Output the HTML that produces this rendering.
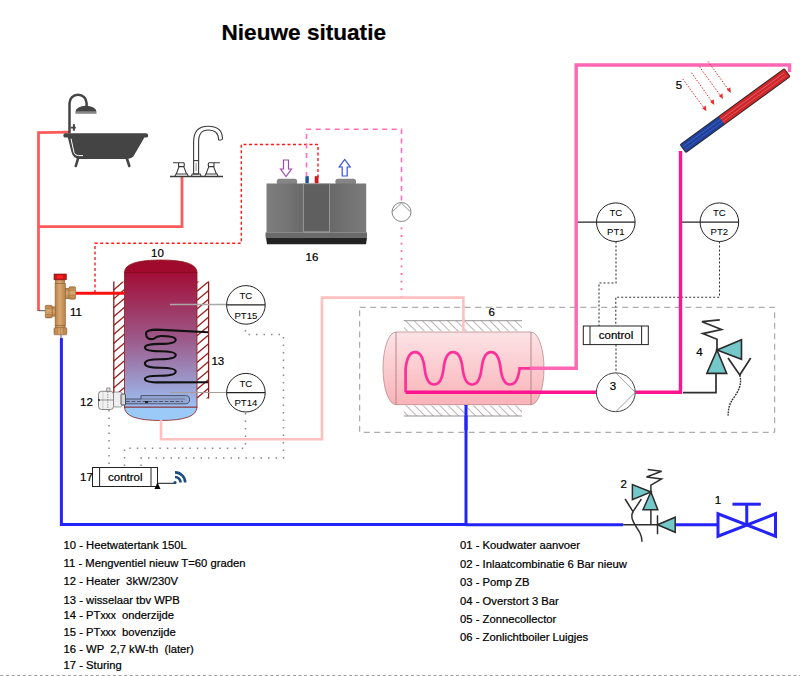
<!DOCTYPE html>
<html><head><meta charset="utf-8">
<style>
html,body{margin:0;padding:0;background:#fff;width:800px;height:676px;overflow:hidden}
svg{position:absolute;left:0;top:0}
text{font-family:"Liberation Sans",sans-serif;white-space:pre;stroke:#000;stroke-width:0.22px}
.s text{stroke-width:0.05px}
</style></head>
<body>
<svg width="800" height="676" viewBox="0 0 800 676">
<defs>
  <pattern id="hatch" patternUnits="userSpaceOnUse" width="6.4" height="6.4" patternTransform="rotate(45)">
    <rect width="6.4" height="6.4" fill="#fff"/>
    <line x1="0" y1="0" x2="0" y2="6.4" stroke="#a52a2a" stroke-width="1.6"/>
  </pattern>
  <pattern id="hatch2" patternUnits="userSpaceOnUse" width="5.95" height="5.95" patternTransform="rotate(-45)">
    <rect width="5.95" height="5.95" fill="#fff"/>
    <line x1="0" y1="0" x2="0" y2="5.95" stroke="#7a6a6a" stroke-width="1"/>
  </pattern>
  <linearGradient id="tankg" x1="0" y1="0" x2="0" y2="1">
    <stop offset="0" stop-color="#a20d36"/>
    <stop offset="0.5" stop-color="#9c5a8a"/>
    <stop offset="1" stop-color="#9cc0f4"/>
  </linearGradient>
  <linearGradient id="vesg" x1="0" y1="0" x2="0" y2="1">
    <stop offset="0" stop-color="#fde3e6"/>
    <stop offset="1" stop-color="#f9b3b8"/>
  </linearGradient>
  <linearGradient id="hpl" x1="0" y1="0" x2="1" y2="0">
    <stop offset="0" stop-color="#7d7d7d"/>
    <stop offset="0.5" stop-color="#767676"/>
    <stop offset="1" stop-color="#686868"/>
  </linearGradient>
  <linearGradient id="hpr" x1="0" y1="0" x2="1" y2="0">
    <stop offset="0" stop-color="#686868"/>
    <stop offset="0.6" stop-color="#747474"/>
    <stop offset="1" stop-color="#7a7a7a"/>
  </linearGradient>
  <linearGradient id="hpg" x1="0" y1="0" x2="1" y2="0">
    <stop offset="0" stop-color="#5a5a5a"/>
    <stop offset="0.5" stop-color="#8a8a8a"/>
    <stop offset="1" stop-color="#6a6a6a"/>
  </linearGradient>
  <linearGradient id="brassH" x1="0" y1="0" x2="1" y2="0">
    <stop offset="0" stop-color="#b98048"/>
    <stop offset="0.45" stop-color="#d8a870"/>
    <stop offset="1" stop-color="#b8804a"/>
  </linearGradient>
  <linearGradient id="brassV" x1="0" y1="0" x2="0" y2="1">
    <stop offset="0" stop-color="#b98048"/>
    <stop offset="0.45" stop-color="#d8a870"/>
    <stop offset="1" stop-color="#b8804a"/>
  </linearGradient>
</defs>

<!-- Title -->
<text x="221.5" y="39.8" font-size="22.6" font-weight="bold" fill="#000">Nieuwe situatie</text>

<!-- salmon pipes -->
<g stroke="#ff5a5a" stroke-width="2.8" fill="none">
  <polyline points="70,132.2 38.5,132.6 38.5,311"/>
  <polyline points="38.5,226.7 182,226.7 182,177"/>
</g>

<!-- Bath -->
<g fill="#444">
  <path d="M69.5 133 V103.2 A8.55 8.55 0 0 1 86.6 103.2 V106.5" stroke="#444" stroke-width="2.5" fill="none"/>
  <path d="M75.4 111.8 A10.55 6 0 0 1 96.5 111.8z"/>
  <rect x="75.4" y="111.8" width="21.1" height="2" fill="#888"/>
  <rect x="72.9" y="124.2" width="2" height="6.5"/>
  <rect x="70.8" y="126.8" width="5" height="1.7"/>
  <path d="M65.5 133.2 H146 a2.2 2.2 0 0 1 0 4.4 H144.4 L134.5 154.5 Q132.5 158.9 127 158.9 H80 Q73 158.9 71.5 152 L67.8 137.6 H65.5 a2.2 2.2 0 0 1 0 -4.4z"/>
  <path d="M71 138.7 L74 152.5 Q75 155.6 78.5 155.6 H83" stroke="#fff" stroke-width="1" fill="none"/>
  <path d="M78.2 158 L75.8 166" stroke="#444" stroke-width="2.6" stroke-linecap="round"/>
  <path d="M126.7 158 L129.3 166" stroke="#444" stroke-width="2.6" stroke-linecap="round"/>
</g>

<!-- Faucet -->
<g stroke="#3a3a3a" fill="none" stroke-width="1.1">
  <line x1="170" y1="176.5" x2="223" y2="176.5" stroke-width="1.3"/>
  <path d="M193.6 160.6 V142 Q193.6 126.2 208 126.2 Q221.8 126.2 222.4 137.5 L222.4 139.2 Q220.5 140.8 218.6 139.8 Q218.6 130 208 130 Q198.6 130 198.6 142 V160.6"/>
  <rect x="193.6" y="160.6" width="5" height="13.4"/>
  <line x1="196.1" y1="163.5" x2="196.1" y2="170.5" stroke-dasharray="1 1"/>
  <path d="M191.5 176 L192.2 174 H200.2 L201 176"/>
  <path d="M173 162.7 H184 M178.6 162.7 V166.6 H184 Q184.6 164.5 184 162.7 M179 166.6 L176.3 174 M183.8 166.6 L186.6 174"/>
  <path d="M175 176 L176 174 H187.3 L188.2 176"/>
  <path d="M209 162.7 H219.8 M214 162.7 V166.6 H208.6 Q208 164.5 208.6 162.7 M208.8 166.6 L206 174 M213.6 166.6 L216.4 174"/>
  <path d="M204.9 176 L205.8 174 H217 L218 176"/>
</g>
<!-- red dotted from tank to HP -->
<polyline points="95,293 95,243.2 241.3,243.2 241.3,144.5 318,144.5 318,180" stroke="#ff1a1a" stroke-width="1.4" fill="none" stroke-dasharray="3 2.5"/>
<!-- pink dashed from HP -->
<polyline points="306.5,176 306.5,129.2 401.5,129.2 401.5,202.5" stroke="#ff70b8" stroke-width="1.6" fill="none" stroke-dasharray="5 4.5" stroke-dashoffset="1"/>
<circle cx="401.5" cy="212" r="9.5" fill="#fff" stroke="#666" stroke-width="0.8"/>
<path d="M392.6 211.5 L401.4 203.2 L410.2 211.5" stroke="#777" stroke-width="0.8" fill="none"/>
<polyline points="401.5,227.5 401.5,297" stroke="#ff66aa" stroke-width="1.8" fill="none" stroke-dasharray="1.8 5.8"/>

<!-- Heat pump 16 -->
<g>
  <rect x="276.8" y="178.8" width="20.3" height="6" rx="2.5" fill="#858585"/>
  <rect x="335.4" y="178.8" width="20.6" height="6" rx="2.5" fill="#858585"/>
  <rect x="266.5" y="183.5" width="37" height="49" fill="url(#hpl)"/>
  <rect x="329.5" y="183.5" width="36.7" height="49" fill="url(#hpr)"/>
  <rect x="303.3" y="183.7" width="26.2" height="48.2" fill="#5f5f5f" stroke="#9a9a9a" stroke-width="0.9"/>
  <rect x="265.5" y="232.4" width="101.5" height="5.4" fill="#6a6a6a"/>
  <path d="M266 237.7 H367 L366 244.3 H267z" fill="#232323"/>
  <rect x="305.4" y="176.2" width="3.4" height="7" fill="#1d4f9a"/>
  <rect x="314.7" y="176.2" width="3.8" height="7" fill="#d01a1a"/>
  <path d="M283.5 160 H288.5 V169 H291.5 L286 176.5 L280.5 169 H283.5z" fill="#fff" stroke="#a04aa8" stroke-width="1.2"/>
  <path d="M342.2 176 H347.2 V167 H350.2 L344.7 159.5 L339.2 167 H342.2z" fill="#fff" stroke="#3050e0" stroke-width="1.2"/>
</g>
<text x="312" y="261" font-size="11.5" text-anchor="middle" fill="#000">16</text>
<!-- Tank 10 -->
<g>
  <clipPath id="clL"><rect x="112" y="281.5" width="13" height="116.5"/></clipPath>
  <clipPath id="clR"><rect x="196.5" y="281.5" width="13" height="117"/></clipPath>
  <g clip-path="url(#clL)" stroke="#9a2020" stroke-width="1.3"><line x1="113.6" y1="281.10" x2="124.5" y2="271.70"/><line x1="113.6" y1="290.00" x2="124.5" y2="280.60"/><line x1="113.6" y1="298.90" x2="124.5" y2="289.50"/><line x1="113.6" y1="307.80" x2="124.5" y2="298.40"/><line x1="113.6" y1="316.70" x2="124.5" y2="307.30"/><line x1="113.6" y1="325.60" x2="124.5" y2="316.20"/><line x1="113.6" y1="334.50" x2="124.5" y2="325.10"/><line x1="113.6" y1="343.40" x2="124.5" y2="334.00"/><line x1="113.6" y1="352.30" x2="124.5" y2="342.90"/><line x1="113.6" y1="361.20" x2="124.5" y2="351.80"/><line x1="113.6" y1="370.10" x2="124.5" y2="360.70"/><line x1="113.6" y1="379.00" x2="124.5" y2="369.60"/><line x1="113.6" y1="387.90" x2="124.5" y2="378.50"/><line x1="113.6" y1="396.80" x2="124.5" y2="387.40"/><line x1="113.6" y1="405.70" x2="124.5" y2="396.30"/></g>
  <g clip-path="url(#clR)" stroke="#9a2020" stroke-width="1.3"><line x1="197" y1="282.40" x2="208.6" y2="272.60"/><line x1="197" y1="291.30" x2="208.6" y2="281.50"/><line x1="197" y1="300.20" x2="208.6" y2="290.40"/><line x1="197" y1="309.10" x2="208.6" y2="299.30"/><line x1="197" y1="318.00" x2="208.6" y2="308.20"/><line x1="197" y1="326.90" x2="208.6" y2="317.10"/><line x1="197" y1="335.80" x2="208.6" y2="326.00"/><line x1="197" y1="344.70" x2="208.6" y2="334.90"/><line x1="197" y1="353.60" x2="208.6" y2="343.80"/><line x1="197" y1="362.50" x2="208.6" y2="352.70"/><line x1="197" y1="371.40" x2="208.6" y2="361.60"/><line x1="197" y1="380.30" x2="208.6" y2="370.50"/><line x1="197" y1="389.20" x2="208.6" y2="379.40"/><line x1="197" y1="398.10" x2="208.6" y2="388.30"/><line x1="197" y1="407.00" x2="208.6" y2="397.20"/></g>
  <line x1="113.8" y1="281.5" x2="113.8" y2="397.5" stroke="#8b1a1a" stroke-width="1.3"/>
  <line x1="208.6" y1="281.5" x2="208.6" y2="398.5" stroke="#8b1a1a" stroke-width="1.3"/>
  <path d="M124.5 272.5 Q124.5 260 160.8 260 Q197 260 197 272.5z" fill="#a00a2c" stroke="#8b1a1a" stroke-width="0.8"/>
  <path d="M124.5 407 Q124.5 420.5 160.8 420.5 Q197 420.5 197 407z" fill="#9ccaf8" stroke="#8b1a1a" stroke-width="0.8"/>
  <rect x="124.5" y="272.5" width="72.5" height="134.5" fill="url(#tankg)" stroke="#8b1a1a" stroke-width="0.8"/>
  <line x1="124.5" y1="272.5" x2="197" y2="272.5" stroke="#8a0a22" stroke-width="1"/>
  <path d="M208 332.2 L157.6 329.6 Q146 329.6 146 333.5 Q146 340 153.4 339 Q157 336 160.8 336 Q175.7 336 175.7 339.7 Q175.7 343.9 159.8 343.9 Q144.9 343.9 144.9 347.6 Q144.9 351.3 159.8 351.3 Q175.7 351.3 175.7 355.1 Q175.7 359.3 159.8 359.3 Q144.9 359.3 144.9 363.6 Q144.9 367.8 159.8 367.8 Q175.7 367.8 175.7 371.6 Q175.7 375.8 159.8 375.8 Q144.9 375.8 144.9 379 Q144.9 382.4 160 382.4 L208 382.2" stroke="#111" stroke-width="2.1" fill="none"/>
</g>
<text x="157.5" y="257" font-size="11.5" text-anchor="middle" fill="#000">10</text>
<text x="217.8" y="365" font-size="11.5" text-anchor="middle" fill="#000">13</text>
<text x="86.5" y="406" font-size="11.5" text-anchor="middle" fill="#000">12</text>
<text x="76" y="315.5" font-size="11.5" text-anchor="middle" fill="#000">11</text>

<!-- sensor lines -->
<line x1="170" y1="304.5" x2="226.5" y2="304.5" stroke="#a8a8a8" stroke-width="1.6"/>
<line x1="170" y1="392.5" x2="226.5" y2="392.5" stroke="#a8a098" stroke-width="1.2"/>

<!-- red supply into tank -->
<line x1="75.5" y1="293.3" x2="124.5" y2="293.3" stroke="#ff1010" stroke-width="3"/>
<!-- blue cold -->
<polyline points="61.4,338 61.4,524.4 466,524.4" stroke="#2424f8" stroke-width="3" fill="none"/>
<line x1="466" y1="405" x2="466" y2="524.4" stroke="#2424f8" stroke-width="3"/>

<!-- Mixing valve 11 -->
<line x1="38.5" y1="310.7" x2="45.5" y2="310.7" stroke="#555" stroke-width="1"/>
<line x1="61" y1="334" x2="61" y2="338.5" stroke="#555" stroke-width="1"/>
<g stroke="#8a6234" stroke-width="0.6">
  <rect x="55.3" y="279.8" width="9.3" height="4" fill="url(#brassH)"/>
  <rect x="55.1" y="283.3" width="10.3" height="42.4" fill="url(#brassH)"/>
  <rect x="55.3" y="325.5" width="9.8" height="2.4" fill="url(#brassH)"/>
  <rect x="54" y="327.7" width="12.8" height="7.1" rx="1" fill="url(#brassH)"/>
  <rect x="65.4" y="288.3" width="3.8" height="10.4" fill="url(#brassV)"/>
  <rect x="69" y="286.8" width="6.6" height="12.4" rx="1" fill="url(#brassV)"/>
  <rect x="52" y="306.9" width="3.2" height="9.3" fill="url(#brassV)"/>
  <rect x="45.3" y="305.3" width="6.8" height="12.6" rx="1" fill="url(#brassV)"/>
  <rect x="54" y="274" width="12.3" height="5.8" fill="#c41818" stroke="#7a1010"/>
  <rect x="57" y="275.5" width="6" height="3" fill="#ff2020" stroke="none"/>
</g>
<g stroke="#a07040" stroke-width="0.5" opacity="0.8">
  <line x1="57.5" y1="328" x2="57.5" y2="334.5"/><line x1="60.5" y1="328" x2="60.5" y2="334.5"/><line x1="63.5" y1="328" x2="63.5" y2="334.5"/>
  <line x1="69.5" y1="290.5" x2="75.5" y2="290.5"/><line x1="69.5" y1="295.5" x2="75.5" y2="295.5"/>
  <line x1="45.5" y1="308.5" x2="52" y2="308.5"/><line x1="45.5" y1="314.5" x2="52" y2="314.5"/>
</g>

<!-- light pink pipe tank bottom to vessel -->
<polyline points="161,420 161,439.2 322,439.2 322,297.6 463.4,297.6 463.4,333" stroke="#ffc0c0" stroke-width="2.6" fill="none"/>

<!-- sensor circles -->
<g stroke="#222" stroke-width="1" fill="#fff">
  <circle cx="245.9" cy="304.9" r="19.3"/>
  <circle cx="245.9" cy="392.7" r="19.3"/>
  <circle cx="615.8" cy="222.2" r="19.3"/>
  <circle cx="719.4" cy="222.2" r="19.3"/>
</g>
<g stroke="#222" stroke-width="1.2">
  <line x1="226.6" y1="304.9" x2="265.2" y2="304.9"/>
  <line x1="226.6" y1="392.7" x2="265.2" y2="392.7"/>
  <line x1="576" y1="222.2" x2="635.1" y2="222.2"/>
  <line x1="680.5" y1="222.2" x2="738.7" y2="222.2"/>
</g>
<g class="s" font-size="9.6" text-anchor="middle" fill="#000">
  <text x="245.9" y="299.3">TC</text><text x="245.9" y="318.5">PT15</text>
  <text x="245.9" y="387.1">TC</text><text x="245.9" y="406.3">PT14</text>
  <text x="615.8" y="215.6">TC</text><text x="615.8" y="234.6">PT1</text>
  <text x="719.4" y="215.6">TC</text><text x="719.4" y="234.6">PT2</text>
</g>

<!-- dotted control lines -->
<g stroke="#888" stroke-width="1.5" fill="none" stroke-dasharray="1.5 6">
  <polyline points="245.5,330 245.5,334.5 283.5,334.5 283.5,458 141,458 141,467"/>
  <polyline points="245.5,413 245.5,448.3 124.5,448.3 124.5,467"/>
  <polyline points="109,410 109,467"/>
</g>
<g stroke="#333" stroke-width="1.1" fill="none" stroke-dasharray="2 2">
  <polyline points="616,241.5 616,283 599,283 599,326"/>
  <polyline points="719.5,241.5 719.5,297.2 615.8,297.2 615.8,326"/>
  <polyline points="616,344.6 616,373"/>
</g>

<!-- Heater 12 -->
<g>
  <rect x="106.8" y="388" width="3.2" height="3.5" fill="#e8e8e8" stroke="#555" stroke-width="0.6"/>
  <rect x="98.5" y="391.3" width="15" height="18.2" rx="3" fill="#f0f0f0" stroke="#555" stroke-width="0.7"/>
  <line x1="103" y1="391.5" x2="103" y2="409" stroke="#bbb" stroke-width="0.6"/>
  <line x1="107.8" y1="391.5" x2="107.8" y2="409" stroke="#666" stroke-width="0.6" stroke-dasharray="1.5 1"/>
  <line x1="98.5" y1="400" x2="122" y2="400" stroke="#555" stroke-width="0.6"/>
  <circle cx="99" cy="400" r="0.9" fill="#222"/>
  <rect x="113.5" y="392" width="8.5" height="15" rx="1.5" fill="#eee" stroke="#666" stroke-width="0.6"/>
  <rect x="121" y="394" width="4.5" height="11" rx="1" fill="#d8d8d8" stroke="#333" stroke-width="0.8"/>
  <path d="M125.5 399 H141 V395.6 H185.5 A4.1 4.1 0 0 1 185.5 403.8 H125.5z" fill="#93a6d8" stroke="#3a3a4a" stroke-width="0.8"/>
  <line x1="141" y1="399" x2="185" y2="399" stroke="#556" stroke-width="0.6"/>
  <line x1="126" y1="401.5" x2="183" y2="401.5" stroke="#333" stroke-width="0.7" stroke-dasharray="4 1.5"/>
  <rect x="145" y="401" width="3" height="2" fill="#222"/>
</g>
<!-- Control 17 -->
<g stroke="#222" stroke-width="1" fill="#fff">
  <rect x="92.5" y="467.5" width="65" height="19"/>
  <line x1="99.6" y1="467.5" x2="99.6" y2="486.5"/>
  <line x1="151" y1="467.5" x2="151" y2="486.5"/>
</g>
<text x="125.3" y="481" font-size="11.5" text-anchor="middle" fill="#000">control</text>
<text x="86.5" y="481" font-size="11.5" text-anchor="middle" fill="#000">17</text>
<polyline points="157.5,486 157.5,483.4 175,483.4" stroke="#444" stroke-width="1.1" fill="none"/>
<path d="M154.5 489 L157.5 482.5 L160.5 489z" fill="#000"/>
<g stroke="#1d4e80" stroke-width="2.6" fill="none">
  <circle cx="175" cy="482.6" r="1.6" fill="#1d4e80" stroke="none"/>
  <path d="M175 477 A5.6 5.6 0 0 1 180.6 482.6"/>
  <path d="M175 472.4 A10.2 10.2 0 0 1 185.2 482.6"/>
</g>
<!-- dashed box -->
<rect x="359.7" y="307.3" width="415" height="125" fill="none" stroke="#999" stroke-width="1" stroke-dasharray="6 4.5"/>
<text x="491.7" y="315.5" font-size="11.5" text-anchor="middle" fill="#000">6</text>

<!-- Vessel 6 -->
<g>
  <rect x="403.8" y="320.7" width="118.2" height="10.5" fill="url(#hatch2)"/>
  <rect x="403.8" y="405.5" width="118.2" height="10.5" fill="url(#hatch2)"/>
  <line x1="403.8" y1="320.7" x2="522" y2="320.7" stroke="#777" stroke-width="0.8"/>
  <line x1="403.8" y1="416" x2="522" y2="416" stroke="#777" stroke-width="0.8"/>
  <path d="M396 332 H531 A13 36.35 0 0 1 531 404.7 H396 A13 36.35 0 0 1 396 332z" fill="url(#vesg)" stroke="#b08080" stroke-width="0.7"/>
  <line x1="396" y1="332" x2="396" y2="404.7" stroke="#a07a7a" stroke-width="0.8"/>
  <line x1="531" y1="332" x2="531" y2="404.7" stroke="#a07a7a" stroke-width="0.8"/>
</g>
<!-- vessel coil -->
<path d="M405.6 392.3 V368.3 C406.80 358.26 409.59 352.10 415.10 352.10 C420.61 352.10 423.40 358.26 424.60 368.30 C425.80 378.34 428.59 384.50 434.10 384.50 C439.61 384.50 442.40 378.34 443.60 368.30 C444.80 358.26 447.59 352.10 453.10 352.10 C458.61 352.10 461.40 358.26 462.60 368.30 C463.80 378.34 466.59 384.50 472.10 384.50 C477.61 384.50 480.40 378.34 481.60 368.30 C482.80 358.26 485.59 352.10 491.10 352.10 C496.61 352.10 499.40 358.26 500.60 368.30 C501.80 378.34 504.59 384.50 510.10 384.50 C515.61 384.50 518.40 378.34 519.60 368.30 H560" stroke="#ff2f9a" stroke-width="2.7" fill="none"/>
<line x1="463.4" y1="318" x2="463.4" y2="333" stroke="#ffc0c0" stroke-width="2.6"/>
<line x1="466" y1="405" x2="466" y2="430" stroke="#2424f8" stroke-width="3"/>
<!-- pink pipes -->
<polyline points="530,368.3 576.2,368.3 576.2,65 789.5,65 789.5,72" stroke="#ff66b3" stroke-width="3.4" fill="none"/>
<polyline points="405.6,392.3 680.5,392.3 680.5,151" stroke="#ff1490" stroke-width="3.4" fill="none"/>

<!-- right control box -->
<g stroke="#222" stroke-width="1" fill="#fff">
  <rect x="583.3" y="326" width="65" height="18.6"/>
  <line x1="590" y1="326" x2="590" y2="344.6"/>
  <line x1="641.6" y1="326" x2="641.6" y2="344.6"/>
</g>
<text x="616" y="338.5" font-size="11.5" text-anchor="middle" fill="#000">control</text>

<!-- Pump 3 -->
<circle cx="615.8" cy="392.3" r="19.4" fill="#fff" stroke="#444" stroke-width="1"/>
<path d="M615.8 372.9 L635.2 392.3 L615.8 411.7" stroke="#888" stroke-width="0.8" fill="none"/>
<text x="613" y="390.3" font-size="11.5" text-anchor="middle" fill="#000">3</text>

<!-- relief valve 4 -->
<g stroke="#2e2e2e" stroke-width="1.7" fill="none">
  <polyline points="683,392.6 716,392.6 716,373.4"/>
  <polyline points="717,350 717,339.3 702.8,333.6 721.5,329.5 702,321.7 719.8,319.8"/>
  <polyline points="728,358 739.8,375 750.7,358"/>
  <path d="M739.8 375 C743 388 735 395 731 402 C728 408 728.5 412 728 415.7" stroke-dasharray="1.8 1" stroke-width="1.4"/>
</g>
<g fill="#74c8ca" stroke="#2a2a2a" stroke-width="1.6">
  <path d="M706.8 373.4 H726.7 L717 350z"/>
  <path d="M717 350 L741.5 339.8 V359.3z"/>
</g>
<text x="699.5" y="356" font-size="11.5" text-anchor="middle" fill="#000">4</text>

<!-- solar collector 5 -->
<g transform="translate(683,148.6) rotate(-36.1)">
  <rect x="-0.5" y="-5.4" width="130" height="10.8" rx="1.8" fill="#2a2a2a"/>
  <rect x="0.3" y="-4.5" width="48" height="9" fill="#1f409c"/>
  <rect x="48" y="-4.5" width="80.6" height="9" fill="#d42424"/>
  <line x1="1" y1="-1.6" x2="126" y2="-1.6" stroke="#7fa0ff" stroke-opacity="0.45" stroke-width="0.7"/>
  <line x1="1" y1="1.6" x2="126" y2="1.6" stroke="#7fa0ff" stroke-opacity="0.35" stroke-width="0.7"/>
  <line x1="48" y1="-1.6" x2="126" y2="-1.6" stroke="#ff8080" stroke-opacity="0.5" stroke-width="0.7"/>
  <line x1="48" y1="1.6" x2="126" y2="1.6" stroke="#ff8080" stroke-opacity="0.4" stroke-width="0.7"/>
</g>
<g stroke="#e03030" stroke-width="1" stroke-dasharray="1.5 1.5" fill="none">
  <line x1="682.7" y1="78.9" x2="705.5" y2="110"/>
  <line x1="691.5" y1="72.7" x2="713.5" y2="103.8"/>
  <line x1="699.4" y1="66.6" x2="722" y2="97.8"/>
  <line x1="708" y1="61.4" x2="730" y2="91.8"/>
</g>
<g fill="#e03030">
  <path d="M706.4 111.3 L702.2 108.2 L705.8 105.6z"/>
  <path d="M714.3 105 L710.1 101.9 L713.7 99.3z"/>
  <path d="M723 99 L718.8 95.9 L722.4 93.3z"/>
  <path d="M730.9 92.9 L726.7 89.8 L730.3 87.2z"/>
</g>
<text x="679" y="89" font-size="11.5" text-anchor="middle" fill="#000">5</text>

<!-- valve 2 group -->
<line x1="466" y1="524.8" x2="623.2" y2="524.8" stroke="#2424f8" stroke-width="3"/>
<line x1="675.4" y1="524.8" x2="718" y2="524.8" stroke="#2424f8" stroke-width="3"/>
<g stroke="#2e2e2e" stroke-width="1.5" fill="none">
  <line x1="623.2" y1="524.8" x2="657.5" y2="524.8"/>
  <line x1="650.9" y1="524.8" x2="650.9" y2="509.7"/>
  <line x1="657.5" y1="515.3" x2="657.5" y2="534.2"/>
  <polyline points="650.9,492 650.9,485.2 661.6,478.9 646.5,477 661.6,471.3 647.7,469.4"/>
  <polyline points="625.1,499 633,511.6 641.4,499"/>
  <path d="M633 511.6 C629 518 636 526 640 533 C642 537 642 540 642 541.8"/>
</g>
<g fill="#74c8ca" stroke="#2a2a2a" stroke-width="1.5">
  <path d="M643 509.7 H657.8 L650.9 492z"/>
  <path d="M650.9 492 L632.4 484.5 V499.6z"/>
  <path d="M657.5 524.8 L675.2 517.2 V532.3z"/>
</g>
<text x="623.6" y="488" font-size="11.5" text-anchor="middle" fill="#000">2</text>

<!-- valve 1 -->
<g stroke="#2424f8" stroke-width="3" fill="none" stroke-linejoin="miter">
  <path d="M718 513.8 V536.2 L775.5 513.8 V536.2z"/>
  <line x1="746.75" y1="524.8" x2="746.75" y2="504.2"/>
  <line x1="732.5" y1="504.2" x2="760.8" y2="504.2"/>
</g>
<text x="718" y="504" font-size="11.5" text-anchor="middle" fill="#000">1</text>

<!-- Legend -->
<g font-size="11.25" fill="#000">
  <text x="63.6" y="549.2">10 - Heetwatertank 150L</text>
  <text x="63.6" y="567.2">11 - Mengventiel nieuw T=60 graden</text>
  <text x="63.6" y="584.6">12 - Heater  3kW/230V</text>
  <text x="63.6" y="604">13 - wisselaar tbv WPB</text>
  <text x="63.6" y="619">14 - PT<tspan font-size="10.2">xxx</tspan>  onderzijde</text>
  <text x="63.6" y="636">15 - PT<tspan font-size="10.2">xxx</tspan>  bovenzijde</text>
  <text x="63.6" y="653">16 - WP  2,7 kW-th  (later)</text>
  <text x="63.6" y="669">17 - Sturing</text>
  <text x="460" y="549">01 - Koudwater aanvoer</text>
  <text x="460" y="568">02 - Inlaatcombinatie 6 Bar nieuw</text>
  <text x="460" y="586">03 - Pomp ZB</text>
  <text x="460" y="605">04 - Overstort 3 Bar</text>
  <text x="460" y="623">05 - Zonnecollector</text>
  <text x="460" y="641">06 - Zonlichtboiler Luigjes</text>
</g>
<line x1="0" y1="675.5" x2="800" y2="675.5" stroke="#a0a0a0" stroke-width="1.2" stroke-dasharray="3 2.625" stroke-dashoffset="-0.4"/>
</svg>
</body></html>
